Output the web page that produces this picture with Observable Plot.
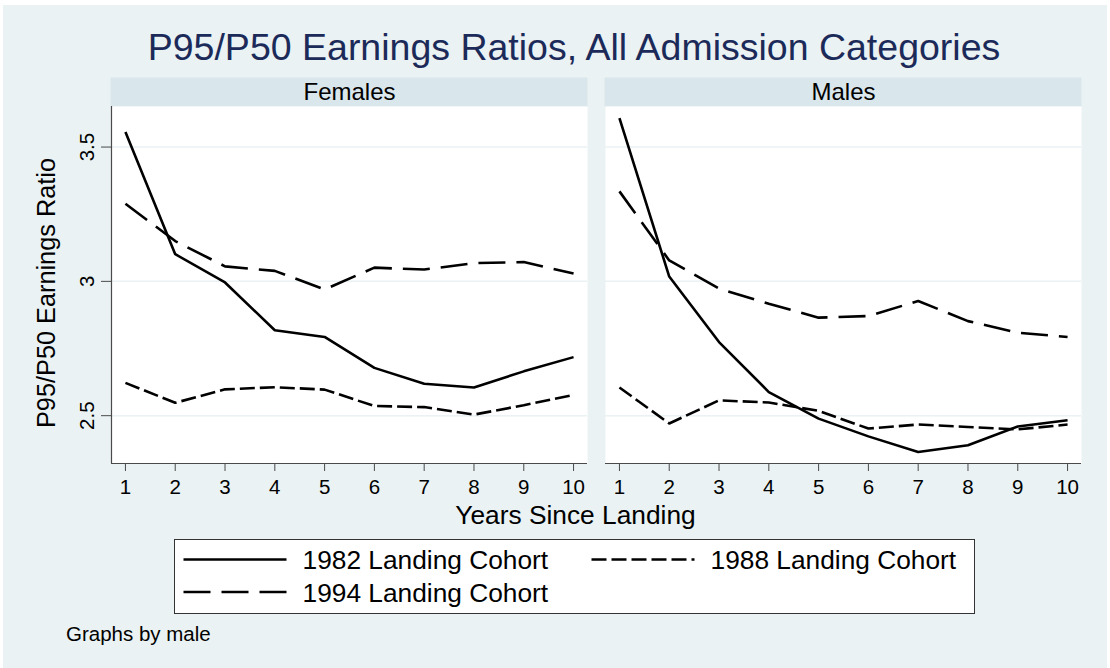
<!DOCTYPE html>
<html>
<head>
<meta charset="utf-8">
<script src="https://cdn.jsdelivr.net/npm/d3@7"></script>
<script src="https://cdn.jsdelivr.net/npm/@observablehq/plot@0.6"></script>
<style>
  html, body { margin: 0; padding: 0; background: white; }
  #root { position: relative; width: 1110px; height: 668px; overflow: hidden; background: white;
          font-family: "Liberation Sans", Arial, sans-serif; }
  #bg { position: absolute; left: 3px; top: 5px; width: 1104px; height: 663px; background: #eaf2f3; }
  .abs { position: absolute; white-space: nowrap; line-height: 1; }
  #chart { position: absolute; left: 0; top: 0; }
  #legend { position: absolute; left: 174px; top: 539px; width: 801px; height: 75px; box-sizing: border-box;
            border: 1.5px solid #333; background: white; }
</style>
</head>
<body>
<div id="root">
  <div id="bg"></div>
  <div id="chart"></div>
  <div class="abs" id="title" style="left:574px; top:28.5px; font-size:37.5px; color:#1c2a59; transform:translateX(-50%);">P95/P50 Earnings Ratios, All Admission Categories</div>
  <div class="abs" id="ytitle" style="left:47px; top:293px; font-size:25.3px; color:#000; transform:translate(-50%,-50%) rotate(-90deg);">P95/P50 Earnings Ratio</div>
  <div class="abs" id="xtitle" style="left:575.5px; top:502px; font-size:26.3px; color:#000; transform:translateX(-50%);">Years Since Landing</div>
  <div id="legend"></div>
  <div class="abs" id="caption" style="left:66px; top:623.5px; font-size:20.5px; color:#000;">Graphs by male</div>
</div>
<script>
// ---- data ----
const years = [1, 2, 3, 4, 5, 6, 7, 8, 9, 10];
const sexes = ["Females", "Males"];
const cohorts = ["1982 Landing Cohort", "1988 Landing Cohort", "1994 Landing Cohort"];
const female1982 = [3.556, 3.101, 2.996, 2.818, 2.793, 2.678, 2.619, 2.605, 2.665, 2.718];
const female1988 = [2.622, 2.548, 2.598, 2.606, 2.597, 2.536, 2.532, 2.504, 2.539, 2.577];
const female1994 = [3.289, 3.150, 3.056, 3.039, 2.970, 3.051, 3.044, 3.068, 3.072, 3.029];
const male1982 = [3.608, 3.018, 2.774, 2.588, 2.489, 2.423, 2.365, 2.390, 2.460, 2.483];
const male1988 = [2.605, 2.471, 2.557, 2.549, 2.518, 2.452, 2.467, 2.458, 2.449, 2.467];
const male1994 = [3.335, 3.078, 2.973, 2.917, 2.865, 2.871, 2.927, 2.852, 2.809, 2.793];
const yTicks = [2.5, 3, 3.5];
const yTickLabels = ["2.5", "3", "3.5"];
const xTicks = years;

// ---- build table ----
const series = {
  "Females": [female1982, female1988, female1994],
  "Males": [male1982, male1988, male1994]
};
const rows = [];
for (const sex of sexes) {
  series[sex].forEach((vals, ci) => {
    vals.forEach((v, i) => rows.push({sex, cohort: cohorts[ci], year: years[i], value: v}));
  });
}

const dash = {
  "1982 Landing Cohort": null,
  "1988 Landing Cohort": "15,5",
  "1994 Landing Cohort": "27,11"
};

const xDomain = [0.72, 10.28];
const yDomain = [2.322, 3.651];
const W = 1110, H = 540;
const mTop = 106, mBottom = 77, mLeft = 111, mRight = 28;
const innerH = H - mTop - mBottom;
const axisColor = "#4a4a4a";

const lineMarks = cohorts.map(c =>
  Plot.line(rows.filter(r => r.cohort === c), {
    fx: "sex", x: "year", y: "value",
    stroke: "black", strokeWidth: 2.6, strokeDasharray: dash[c],
    strokeLinejoin: "miter", strokeLinecap: "butt"
  })
);

const chart = Plot.plot({
  width: W, height: H,
  marginTop: mTop, marginBottom: mBottom, marginLeft: mLeft, marginRight: mRight,
  style: {background: "transparent", fontFamily: "'Liberation Sans', Arial, sans-serif", overflow: "visible"},
  fx: {domain: sexes, paddingInner: 0.0364, paddingOuter: 0, axis: null, label: null},
  x: {domain: xDomain, label: null},
  y: {domain: yDomain, label: null},
  marks: [
    // facet strips
    Plot.frame({fill: "#d9e6eb", stroke: null, insetTop: -29, insetBottom: innerH, insetLeft: -1}),
    Plot.text(sexes, {fx: d => d, text: d => d, frameAnchor: "top", dy: -14.5, lineAnchor: "middle",
                      fontSize: 24, fill: "black"}),
    // plot region
    Plot.frame({fill: "white", stroke: null}),
    Plot.gridY(yTicks, {stroke: "#eaf2f3", strokeOpacity: 1, strokeWidth: 1.5}),
    Plot.ruleY([yDomain[0]], {stroke: axisColor, strokeWidth: 1.2}),
    Plot.ruleX([xDomain[0]], {fx: () => "Females", stroke: axisColor, strokeWidth: 1.2}),
    Plot.axisX(xTicks, {tickSize: 8, tickPadding: 8, fontSize: 20.5, stroke: axisColor, fill: "black", label: null}),
    Plot.axisY(yTicks, {anchor: "left", tickSize: 10, tickPadding: 8, tickRotate: -90, fontSize: 20.5,
                        tickFormat: d => yTickLabels[yTicks.indexOf(d)], stroke: axisColor, fill: "black", label: null}),
    ...lineMarks
  ]
});
document.getElementById("chart").appendChild(chart);

// ---- legend ----
const legend = document.getElementById("legend");
const legItems = [
  {cohort: cohorts[0], x: 10, y: 22},
  {cohort: cohorts[1], x: 418, y: 22},
  {cohort: cohorts[2], x: 10, y: 54.5}
];
const ns = "http://www.w3.org/2000/svg";
const lsvg = document.createElementNS(ns, "svg");
lsvg.setAttribute("width", 798);
lsvg.setAttribute("height", 72);
lsvg.style.position = "absolute";
lsvg.style.left = "0px";
lsvg.style.top = "0px";
legend.appendChild(lsvg);
for (const it of legItems) {
  const ln = document.createElementNS(ns, "line");
  ln.setAttribute("x1", it.x - 1.5);
  ln.setAttribute("x2", it.x + 101.5);
  ln.setAttribute("y1", it.y - 2.5);
  ln.setAttribute("y2", it.y - 2.5);
  ln.setAttribute("stroke", "black");
  ln.setAttribute("stroke-width", 2.6);
  if (dash[it.cohort]) ln.setAttribute("stroke-dasharray", dash[it.cohort]);
  lsvg.appendChild(ln);
  const t = document.createElement("div");
  t.className = "abs";
  t.textContent = it.cohort;
  t.style.fontSize = "26.3px";
  t.style.left = (it.x + 117.5) + "px";
  t.style.top = (it.y - 1.5 - 13.2) + "px";
  legend.appendChild(t);
}
</script>
</body>
</html>
